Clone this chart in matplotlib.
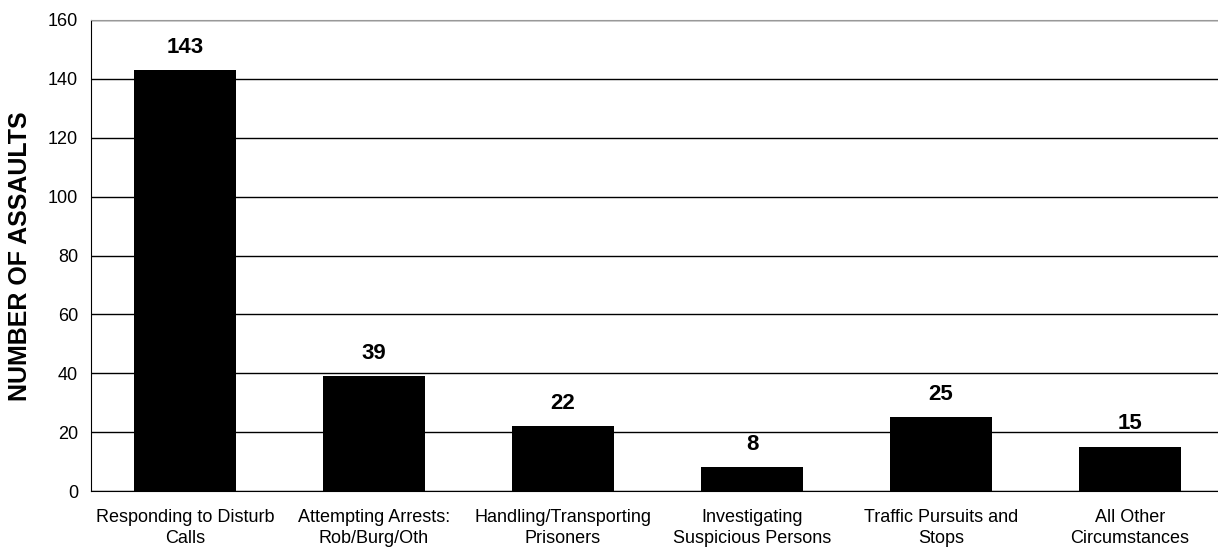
import matplotlib
matplotlib.use("Agg")
import matplotlib.pyplot as plt

# Data
categories = ["Responding to Disturb\nCalls", "Attempting Arrests:\nRob/Burg/Oth",
              "Handling/Transporting\nPrisoners", "Investigating\nSuspicious Persons",
              "Traffic Pursuits and\nStops", "All Other\nCircumstances"]
assaults = [143, 39, 22, 8, 25, 15]
yticks = [0, 20, 40, 60, 80, 100, 120, 140, 160]

plt.rcParams['font.family'] = ['Liberation Sans', 'DejaVu Sans']

fig = plt.figure(figsize=(12.18, 5.48), dpi=100)
ax = fig.add_axes([90.5 / 1218, 57 / 548, 1134 / 1218, 471 / 548])

x = range(len(categories))
ax.bar(x, assaults, width=0.54, color='black', zorder=3)

# value labels above each bar
for xi, v in zip(x, assaults):
    ax.annotate(str(v), (xi, v), xytext=(0, 9), textcoords='offset points',
                ha='center', va='bottom', fontsize=16, fontweight='bold')

ax.set_xlim(-0.5, len(categories) - 0.5)
ax.set_ylim(0, 160)
ax.set_yticks(yticks)
ax.set_xticks(list(x))
ax.set_xticklabels(categories, fontsize=13, linespacing=1.3)
ax.tick_params(axis='both', length=0)
ax.tick_params(axis='y', labelsize=13, pad=9)
ax.tick_params(axis='x', pad=13)

# horizontal gridlines
ax.yaxis.grid(True, color='black', linewidth=1, zorder=0)
ax.set_axisbelow(True)

ax.spines['right'].set_visible(False)
ax.spines['top'].set_color('#999999')
ax.spines['left'].set_color('black')
ax.spines['bottom'].set_color('black')

fig.text(20 / 1218, 1 - 256 / 548, 'NUMBER OF ASSAULTS', rotation=90,
         ha='center', va='center', fontsize=18, fontweight='bold')

fig.savefig('out.png', dpi=100)
